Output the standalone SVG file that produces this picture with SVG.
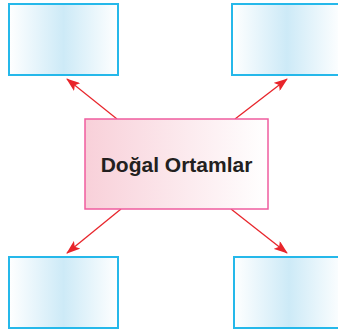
<svg xmlns="http://www.w3.org/2000/svg" width="338" height="333" viewBox="0 0 338 333">
<defs>
<linearGradient id="gb" x1="0" y1="0" x2="1" y2="0">
<stop offset="0" stop-color="#ffffff"/>
<stop offset="0.5" stop-color="#cdeaf7"/>
<stop offset="1" stop-color="#ffffff"/>
</linearGradient>
<linearGradient id="gp" x1="0" y1="0" x2="1" y2="0">
<stop offset="0" stop-color="#f8d0d9"/>
<stop offset="1" stop-color="#ffffff"/>
</linearGradient>
<marker id="ah" viewBox="0 0 14 10" refX="13" refY="5" markerWidth="14" markerHeight="10" orient="auto" markerUnits="userSpaceOnUse">
<path d="M0,0 L14,5 L0,10 L3,5 Z" fill="#e8252b"/>
</marker>
<style>
.b{fill:url(#gb);stroke:#25b8ea;stroke-width:2}
.c{fill:url(#gp);stroke:#ef5c9f;stroke-width:1.5}
.a{stroke:#e8252b;stroke-width:1.3;fill:none;marker-end:url(#ah)}
.t{font-family:"Liberation Sans",Arial,sans-serif;font-weight:bold;font-size:21px;fill:#231f20}
</style>
</defs>
<g id="connectors">
<line class="a" x1="117" y1="119" x2="67" y2="79"/>
<line class="a" x1="235" y1="119" x2="287" y2="79"/>
<line class="a" x1="121" y1="209" x2="67" y2="253"/>
<line class="a" x1="231" y1="209" x2="287" y2="253"/>
</g>
<g id="node-tl"><rect class="b" x="9" y="4" width="109" height="71"/></g>
<g id="node-tr"><rect class="b" x="232" y="4" width="110" height="71"/></g>
<g id="node-bl"><rect class="b" x="9" y="257" width="109" height="71"/></g>
<g id="node-br"><rect class="b" x="234" y="257" width="110" height="71"/></g>
<g id="node-center">
<rect class="c" x="85" y="119" width="183" height="90"/>
<text class="t" x="176.5" y="172" text-anchor="middle">Doğal Ortamlar</text>
</g>
</svg>
